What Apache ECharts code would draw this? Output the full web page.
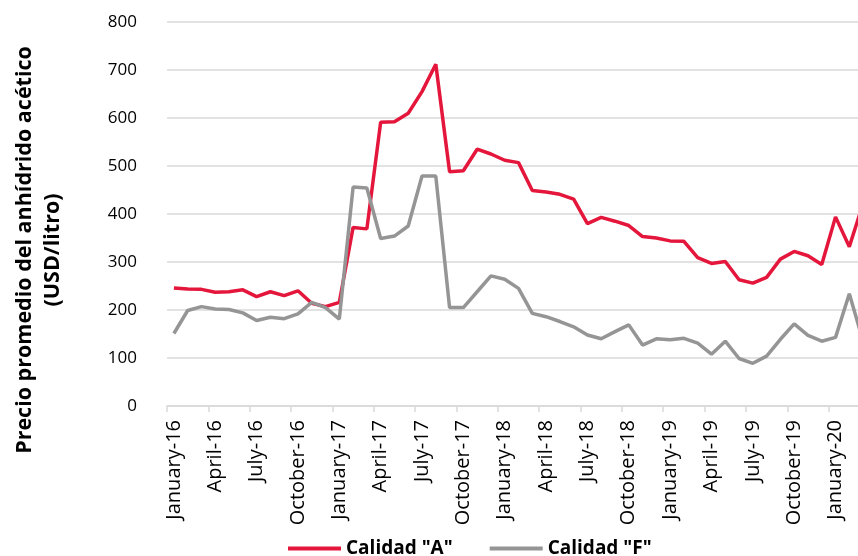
<!DOCTYPE html>
<html>
<head>
<meta charset="utf-8">
<script src="https://cdn.jsdelivr.net/npm/echarts@6/dist/echarts.min.js"></script>
<style>
  html, body { margin: 0; padding: 0; background: #fff; overflow: hidden; width: 858px; height: 556px; }
  #chart { width: 870px; height: 556px; }
</style>
</head>
<body>
<div id="chart"></div>
<script>
const categories = [
  "January-16","February-16","March-16","April-16","May-16","June-16","July-16","August-16","September-16","October-16","November-16","December-16",
  "January-17","February-17","March-17","April-17","May-17","June-17","July-17","August-17","September-17","October-17","November-17","December-17",
  "January-18","February-18","March-18","April-18","May-18","June-18","July-18","August-18","September-18","October-18","November-18","December-18",
  "January-19","February-19","March-19","April-19","May-19","June-19","July-19","August-19","September-19","October-19","November-19","December-19",
  "January-20","February-20","March-20"
];
const calidadA = [246, 244, 243, 237, 238, 242, 228, 238, 230, 240,
  214, 207, 216, 372, 369, 591, 592, 610, 655, 712,
  488, 490, 535, 525, 512, 507, 449, 446, 441, 431,
  380, 393, 385, 376, 353, 350, 344, 343, 309, 297,
  301, 263, 256, 268, 306, 322, 313, 295, 394, 332,
  422];
const calidadF = [151, 199, 207, 202, 201, 194, 178, 185, 182, 192,
  216, 205, 181, 456, 454, 349, 354, 375, 479, 479,
  205, 205, 238, 271, 264, 245, 193, 186, 176, 165,
  148, 140, 155, 169, 127, 140, 138, 141, 131, 108,
  135, 99, 89, 104, 139, 171, 147, 135, 143, 234,
  135];
const seriesNames = ['Calidad "A"', 'Calidad "F"'];
const yTitle = 'Precio promedio del anhídrido acético\n(USD/litro)';

const FONT = 'Open Sans';
const chart = echarts.init(document.getElementById('chart'));
chart.setOption({
  animation: false,
  backgroundColor: '#ffffff',
  grid: { left: 167, top: 22, width: 703, height: 384, containLabel: false, outerBoundsMode: 'none' },
  legend: {
    data: seriesNames,
    left: 283, top: 534,
    icon: 'rect',
    itemWidth: 53, itemHeight: 4, itemGap: 37,
    textStyle: { fontFamily: FONT, fontWeight: 'bold', fontSize: 19, color: '#000' }
  },
  xAxis: {
    type: 'category',
    data: categories,
    boundaryGap: true,
    axisLine: { lineStyle: { color: '#d9d9d9', width: 1.5 } },
    axisTick: { show: true, interval: 2, length: 6, lineStyle: { color: '#d9d9d9', width: 1.5 } },
    axisLabel: { interval: 2, rotate: 90, margin: 14, fontFamily: FONT, fontSize: 20, color: '#000' },
    splitLine: { show: false }
  },
  yAxis: {
    type: 'value',
    min: 0, max: 800, interval: 100,
    axisLine: { show: false },
    axisTick: { show: false },
    splitLine: { lineStyle: { color: '#d9d9d9', width: 1.5 } },
    axisLabel: { margin: 30, fontFamily: FONT, fontSize: 17, color: '#000' }
  },
  graphic: [{
    type: 'text',
    x: 39, y: 250,
    rotation: Math.PI / 2,
    style: {
      text: yTitle,
      fontFamily: FONT, fontWeight: 'bold', fontSize: 21.5,
      align: 'center', verticalAlign: 'middle', lineHeight: 28,
      fill: '#000'
    }
  }],
  series: [
    {
      name: seriesNames[0], type: 'line', data: calidadA,
      symbol: 'none', smooth: false,
      lineStyle: { color: '#E4163B', width: 3.5 },
      itemStyle: { color: '#E4163B' }
    },
    {
      name: seriesNames[1], type: 'line', data: calidadF,
      symbol: 'none', smooth: false,
      lineStyle: { color: '#959595', width: 3.5 },
      itemStyle: { color: '#959595' }
    }
  ]
});
</script>
</body>
</html>
